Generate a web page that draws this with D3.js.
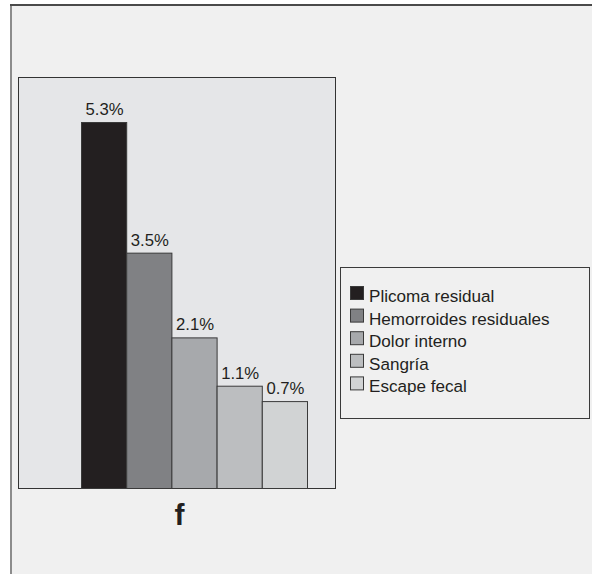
<!DOCTYPE html>
<html>
<head>
<meta charset="utf-8">
<script src="https://cdn.jsdelivr.net/npm/d3@7"></script>
<style>
  html, body { margin: 0; padding: 0; background: #ffffff; }
  svg { display: block; font-family: "Liberation Sans", Arial, Helvetica, sans-serif; }
</style>
</head>
<body>
<svg id="chart" width="592" height="574"></svg>
<script>
// Complicaciones (porcentaje de pacientes)
const categories = ["Plicoma residual", "Hemorroides residuales", "Dolor interno", "Sangría", "Escape fecal"];
const values = [5.3, 3.5, 2.1, 1.1, 0.7];
const groups = ["f"];
const fills = ["#231f20", "#808184", "#a7a9ac", "#bcbec0", "#d1d3d4"];

const svg = d3.select("#chart");
const W = 592, H = 574;

// panel background and frame
svg.append("rect").attr("x", 11).attr("y", 5).attr("width", W - 11).attr("height", H - 5).attr("fill", "#f0f0f0");
svg.append("line").attr("x1", 11).attr("x2", 11).attr("y1", 5).attr("y2", H)
  .attr("stroke", "#8c8c8c").attr("stroke-width", 2);
svg.append("line").attr("x1", 10).attr("x2", W).attr("y1", 5).attr("y2", 5)
  .attr("stroke", "#4a4a4a").attr("stroke-width", 2);

// plot area
const plot = { left: 18, right: 335, top: 77, bottom: 488 };
svg.append("rect")
  .attr("x", plot.left + 0.5).attr("y", plot.top + 0.5)
  .attr("width", plot.right - plot.left).attr("height", plot.bottom - plot.top)
  .attr("fill", "#e5e6e8").attr("stroke", "#333333").attr("stroke-width", 1);

// group axis (single cluster "f")
const xGroup = d3.scaleBand().domain(groups).range([plot.left, plot.right]);
// bars inside the cluster
const x = d3.scaleBand().domain(categories).range([81, 307]).paddingInner(0);
// value axis, compressed near the baseline
const yMin = -1.88;
const y = d3.scalePow().exponent(1.4).domain([yMin, d3.max(values)]).range([plot.bottom, 122]);

const data = categories.map((c, i) => ({ c, v: values[i], fill: fills[i] }));

svg.append("g").selectAll("rect").data(data).join("rect")
  .attr("x", d => x(d.c) + 0.5)
  .attr("y", d => y(d.v) + 0.5)
  .attr("width", x.bandwidth())
  .attr("height", d => plot.bottom - y(d.v))
  .attr("fill", d => d.fill)
  .attr("stroke", "#3a3a3a").attr("stroke-width", 1);

const fmt = d => d3.format(".1f")(d) + "%";
svg.append("g").selectAll("text").data(data).join("text")
  .attr("x", d => x(d.c) + x.bandwidth() / 2 + 1)
  .attr("y", d => y(d.v) - 7)
  .attr("text-anchor", "middle")
  .attr("font-size", 16.7)
  .attr("fill", "#231f20")
  .text(d => fmt(d.v));

// cluster label
svg.append("g").selectAll("text").data(groups).join("text")
  .attr("x", g => xGroup(g) + xGroup.bandwidth() / 2 + 3)
  .attr("y", 525)
  .attr("text-anchor", "middle")
  .attr("font-size", 30)
  .attr("font-weight", "bold")
  .attr("fill", "#231f20")
  .text(g => g);

// legend
const lg = { x: 340, y: 267, w: 249, h: 151 };
svg.append("rect")
  .attr("x", lg.x + 0.5).attr("y", lg.y + 0.5).attr("width", lg.w).attr("height", lg.h)
  .attr("fill", "#f0f0f0").attr("stroke", "#3a3a3a").attr("stroke-width", 1);

const rowStep = 22.6;
const items = svg.append("g").selectAll("g").data(data).join("g")
  .attr("transform", (d, i) => `translate(${lg.x + 10}, ${286 + i * rowStep})`);
items.append("rect")
  .attr("x", 0.5).attr("y", 0.5).attr("width", 13).attr("height", 13)
  .attr("fill", d => d.fill).attr("stroke", "#3a3a3a").attr("stroke-width", 1);
items.append("text")
  .attr("x", 19).attr("y", 16)
  .attr("font-size", 17.1)
  .attr("fill", "#231f20")
  .text(d => d.c);
</script>
</body>
</html>
